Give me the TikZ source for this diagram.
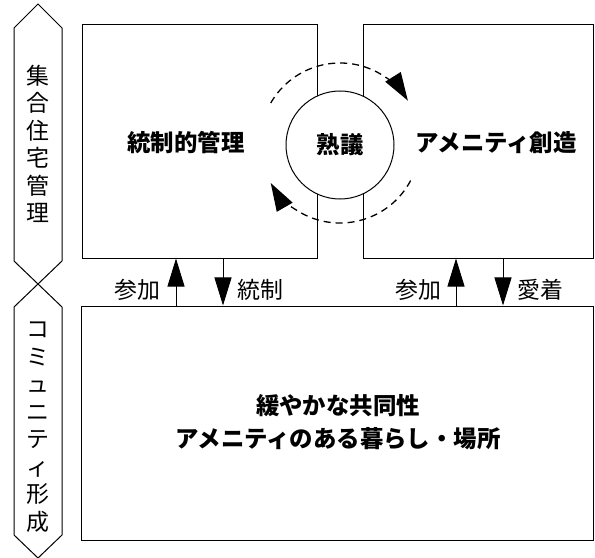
\documentclass[tikz,border=0pt]{standalone}
\usepackage{fontspec}
\setmainfont{Noto Sans CJK JP}
\usetikzlibrary{arrows.meta}
\tikzset{
  ln/.style={line width=1bp, black},
  boxnode/.style={ln, draw, rectangle, inner sep=0pt},
  maintext/.style={font=\fontsize{23.5}{33}\selectfont\bfseries, align=center, inner sep=0pt},
  labeltext/.style={font=\fontsize{23}{26}\selectfont, inner sep=0pt},
  verttext/.style={font=\fontsize{23}{27.6}\selectfont, align=center, inner sep=0pt},
  bigtip/.style={-{Triangle[length=28bp,width=17bp]}},
  cyctip/.style={-{Triangle[length=28bp,width=18bp]}},
  dashline/.style={line width=1.3bp, black, dash pattern=on 7bp off 5bp}
}
\begin{document}
\begin{tikzpicture}[x=1bp,y=-1bp]
\useasboundingbox (0,0) rectangle (595,558);
% side hexagons
\draw[ln] (38,4) -- (62,28) -- (62,261) -- (38,284) -- (14,261) -- (14,28) -- cycle;
\draw[ln] (38,284) -- (62,307) -- (62,535) -- (38,558) -- (14,535) -- (14,307) -- cycle;
\node[verttext] (v1) at (38,144) {集\\合\\住\\宅\\管\\理};
\node[verttext] (v2) at (38,427) {コ\\ミ\\ュ\\ニ\\テ\\ィ\\形\\成};
% boxes
\node[boxnode, minimum width=235bp, minimum height=233bp] (ul) at (199.5,141.5) {};
\node[boxnode, minimum width=230bp, minimum height=233bp] (ur) at (478,141.5) {};
\node[boxnode, minimum width=511bp, minimum height=234bp] (bt) at (337.5,423) {};
% texts
\node[maintext] (t1) at (186,143) {統制的管理};
\node[maintext] (t2) at (496,143) {アメニティ創造};
\node[maintext] (t3) at (338,422) {緩やかな共同性\\アメニティのある暮らし・場所};
% circle
\node[ln, draw, fill=white, circle, minimum size=108bp, inner sep=0pt, maintext] (c) at (340,145) {熟議};
% cycle arrows
\coordinate (cc) at (340,143);
\draw[dashline, cyctip] ([shift={(-150:80)}]cc) arc[start angle=-150, end angle=-32, radius=80];
\draw[dashline, cyctip] ([shift={(28:80)}]cc) arc[start angle=28, end angle=150, radius=80];
% vertical arrows
\coordinate (xa) at (176,0);
\coordinate (xb) at (223,0);
\coordinate (xc) at (456,0);
\coordinate (xd) at (503,0);
\draw[ln, bigtip] (bt.north -| xa) -- (ul.south -| xa);
\draw[ln, bigtip] (ul.south -| xb) -- (bt.north -| xb);
\draw[ln, bigtip] (bt.north -| xc) -- (ur.south -| xc);
\draw[ln, bigtip] (ur.south -| xd) -- (bt.north -| xd);
\node[labeltext] (l1) at (137,290) {参加};
\node[labeltext] (l2) at (260,290) {統制};
\node[labeltext] (l3) at (418,290) {参加};
\node[labeltext] (l4) at (540,290) {愛着};
\end{tikzpicture}
\end{document}
